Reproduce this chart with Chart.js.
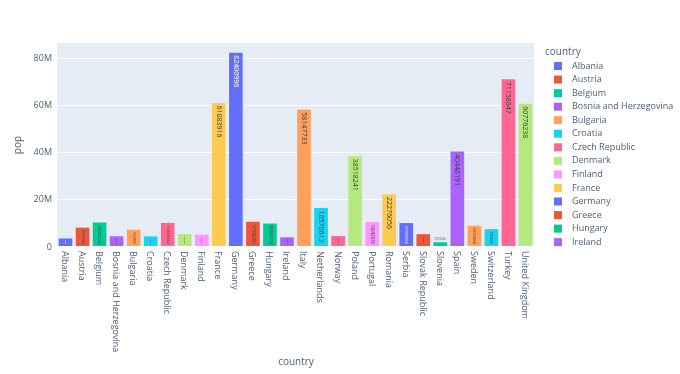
<!DOCTYPE html>
<html>
<head>
<meta charset="utf-8">
<script src="https://cdn.jsdelivr.net/npm/chart.js@4"></script>
<style>
  html, body { margin: 0; background: #fff; }
  #wrap { width: 680px; height: 374px; }
</style>
</head>
<body>
<div id="wrap"><canvas id="myChart" width="680" height="374"></canvas></div>
<script>
const countries = ["Albania", "Austria", "Belgium", "Bosnia and Herzegovina", "Bulgaria", "Croatia",
  "Czech Republic", "Denmark", "Finland", "France", "Germany", "Greece", "Hungary", "Ireland", "Italy",
  "Netherlands", "Norway", "Poland", "Portugal", "Romania", "Serbia", "Slovak Republic", "Slovenia",
  "Spain", "Sweden", "Switzerland", "Turkey", "United Kingdom"];
const pop = [3600523, 8199783, 10392226, 4552198, 7322858, 4493312, 10228744, 5468120, 5238460,
  61083916, 82400996, 10706290, 9956108, 4109086, 58147733, 16570613, 4627926, 38518241, 10642836,
  22276056, 10150265, 5447502, 2009245, 40448191, 9031088, 7554661, 71158647, 60776238];
const palette = ["#636efa", "#EF553B", "#00cc96", "#ab63fa", "#FFA15A", "#19d3f3", "#FF6692", "#B6E880", "#FF97FF", "#FECB52"];
const yTicks = [0, 20e6, 40e6, 60e6, 80e6];
const legendCount = 14; // the rest of the legend is cut off

const FONT = '"Open Sans", sans-serif';
const TXT = "#4f6079";
const barColors = countries.map((c, i) => palette[i % palette.length]);

const plotlyBits = {
  id: "plotlyBits",
  beforeDraw(chart) {
    const { ctx, chartArea: a } = chart;
    ctx.save();
    ctx.fillStyle = "#e5ecf6";
    ctx.fillRect(a.left, a.top, a.right - a.left, a.bottom - a.top);
    ctx.restore();
  },
  afterDatasetsDraw(chart) {
    const ctx = chart.ctx;
    const meta = chart.getDatasetMeta(0);
    meta.data.forEach((bar, i) => {
      const txt = String(pop[i]);
      const h = bar.base - bar.y;
      let size = 7;
      ctx.font = size + "px " + FONT;
      const w = ctx.measureText(txt).width;
      const room = h - 4;
      ctx.save();
      if (h < 6) {
        // too short: plotly puts it above the bar, flat and shrunk to the bar width
        size = size * (bar.width - 2) / w;
        ctx.font = size + "px " + FONT;
        ctx.fillStyle = TXT;
        ctx.textAlign = "center";
        ctx.textBaseline = "bottom";
        ctx.fillText(txt, bar.x, bar.y - 2);
      } else {
        if (w > room) size = size * room / w;
        ctx.font = size + "px " + FONT;
        ctx.fillStyle = barColors[i] === "#636efa" ? "#fff" : "#444";
        ctx.translate(bar.x, bar.y + (w > room ? 2 : 2.5));
        ctx.rotate(Math.PI / 2);
        ctx.textAlign = "left";
        ctx.textBaseline = "middle";
        ctx.fillText(txt, 0, 0);
      }
      ctx.restore();
    });
  },
  afterDraw(chart) {
    const { ctx, scales } = chart;
    const xs = scales.x;
    ctx.save();
    ctx.fillStyle = TXT;
    // category labels
    ctx.font = "9px " + FONT;
    countries.forEach((c, i) => {
      ctx.save();
      ctx.translate(xs.getPixelForValue(i) - 1, 251);
      ctx.rotate(Math.PI / 2);
      ctx.textAlign = "left";
      ctx.textBaseline = "middle";
      ctx.fillText(c, 0, 0);
      ctx.restore();
    });
    // axis titles
    ctx.font = "10px " + FONT;
    ctx.textAlign = "center";
    ctx.textBaseline = "middle";
    ctx.fillText("country", 296, 362);
    ctx.save();
    ctx.translate(18, 145);
    ctx.rotate(-Math.PI / 2);
    ctx.fillText("pop", 0, 0);
    ctx.restore();
    // legend
    ctx.textAlign = "left";
    ctx.fillText("country", 545, 52);
    ctx.font = "9px " + FONT;
    for (let i = 0; i < legendCount; i++) {
      const y = 66 + i * 13.55;
      ctx.fillStyle = barColors[i];
      ctx.fillRect(554, y - 4, 8, 8);
      ctx.fillStyle = TXT;
      ctx.fillText(countries[i], 572, y);
    }
    ctx.restore();
  }
};

new Chart(document.getElementById("myChart"), {
  type: "bar",
  data: {
    labels: countries,
    datasets: [{
      label: "pop",
      data: pop,
      backgroundColor: barColors,
      borderWidth: 0,
      categoryPercentage: 0.8,
      barPercentage: 1
    }]
  },
  options: {
    responsive: false,
    animation: false,
    layout: { padding: { top: 43, right: 146, left: 0, bottom: 0 } },
    plugins: { legend: { display: false }, tooltip: { enabled: false } },
    scales: {
      x: {
        grid: { display: false },
        border: { display: false },
        ticks: { display: false },
        afterFit(s) { s.height = 127; }
      },
      y: {
        min: 0,
        max: 86.5e6,
        afterBuildTicks(s) { s.ticks = yTicks.map(v => ({ value: v })); },
        ticks: {
          padding: 5,
          font: { family: FONT, size: 9 },
          color: TXT,
          callback: v => v === 0 ? "0" : (v / 1e6) + "M"
        },
        grid: {
          color: "#fff",
          lineWidth: c => c.tick && c.tick.value === 0 ? 2 : 1,
          drawTicks: false
        },
        border: { display: false },
        afterFit(s) { s.width = 57; }
      }
    }
  },
  plugins: [plotlyBits]
});
</script>
</body>
</html>
